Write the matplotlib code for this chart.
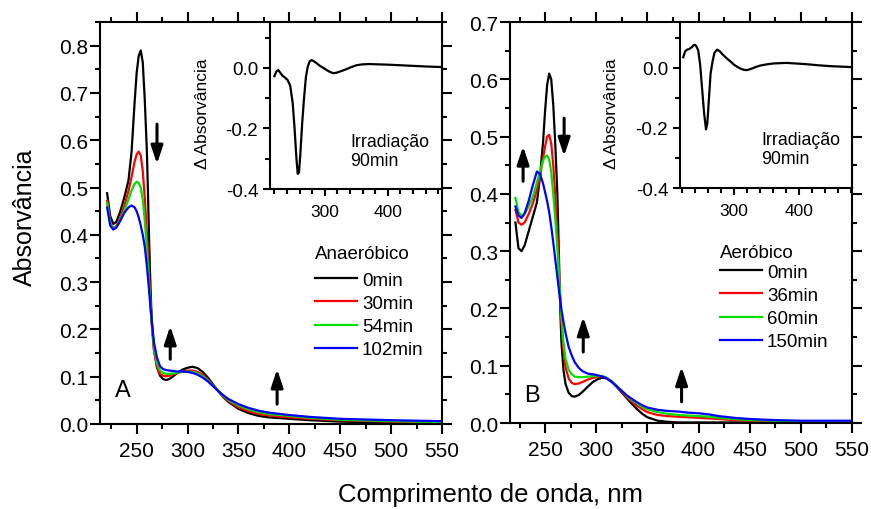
import matplotlib
matplotlib.use("Agg")
import matplotlib.pyplot as plt
from matplotlib.ticker import MultipleLocator

plt.rcParams['font.family'] = ['Liberation Sans', 'DejaVu Sans']

# ---------------- Panel A: anaerobic irradiation ----------------
wl_a = [221, 224, 227, 230, 234, 238, 242, 245, 248, 250, 252, 254, 256, 258, 260,
        261, 262, 263, 264, 265, 267, 270, 273, 276, 279, 282, 286, 290, 295, 300,
        305, 310, 315, 320, 325, 330, 335, 340, 350, 360, 370, 380, 400, 420, 450,
        500, 550]
abs_a_0 = [0.488, 0.440, 0.423, 0.427, 0.450, 0.480, 0.515, 0.575, 0.680, 0.742, 0.778,
           0.790, 0.765, 0.685, 0.580, 0.500, 0.410, 0.330, 0.265, 0.215, 0.160, 0.120,
           0.102, 0.095, 0.093, 0.095, 0.101, 0.108, 0.115, 0.119, 0.121, 0.118, 0.110,
           0.098, 0.084, 0.070, 0.057, 0.047, 0.032, 0.023, 0.017, 0.014, 0.011, 0.008,
           0.005, 0.003, 0.002]
abs_a_30 = [0.472, 0.428, 0.414, 0.418, 0.437, 0.462, 0.493, 0.522, 0.555, 0.570, 0.576,
            0.568, 0.535, 0.478, 0.405, 0.365, 0.322, 0.280, 0.240, 0.205, 0.155, 0.120,
            0.106, 0.102, 0.101, 0.102, 0.105, 0.108, 0.111, 0.113, 0.113, 0.110, 0.104,
            0.094, 0.082, 0.070, 0.058, 0.049, 0.035, 0.027, 0.021, 0.018, 0.014, 0.011,
            0.008, 0.005, 0.003]
abs_a_54 = [0.468, 0.425, 0.413, 0.416, 0.432, 0.452, 0.475, 0.494, 0.508, 0.512, 0.510,
            0.500, 0.475, 0.430, 0.370, 0.338, 0.305, 0.272, 0.240, 0.210, 0.162, 0.128,
            0.113, 0.108, 0.106, 0.106, 0.107, 0.109, 0.110, 0.111, 0.110, 0.107, 0.101,
            0.092, 0.081, 0.070, 0.060, 0.051, 0.039, 0.031, 0.025, 0.021, 0.017, 0.013,
            0.009, 0.006, 0.004]
abs_a_102 = [0.458, 0.420, 0.411, 0.415, 0.430, 0.447, 0.458, 0.462, 0.458, 0.450, 0.437,
             0.420, 0.400, 0.375, 0.335, 0.312, 0.288, 0.262, 0.238, 0.215, 0.172, 0.140,
             0.122, 0.116, 0.114, 0.113, 0.112, 0.111, 0.111, 0.110, 0.108, 0.104, 0.098,
             0.090, 0.080, 0.070, 0.061, 0.053, 0.042, 0.034, 0.028, 0.024, 0.019, 0.015,
             0.011, 0.008, 0.006]
labels_a = ['0min', '30min', '54min', '102min']

# difference spectrum (90 min irradiation), anaerobic
wl_da = [220, 223, 226, 229, 233, 237, 241, 245, 249, 252, 255, 257, 259, 261, 264, 267,
         270, 273, 276, 279, 283, 288, 293, 298, 303, 308, 313, 318, 325, 333, 342, 350,
         360, 370, 385, 400, 420, 440, 460, 486]
dabs_a = [-0.027, -0.012, -0.006, -0.015, -0.026, -0.032, -0.040, -0.058, -0.115, -0.200,
          -0.300, -0.350, -0.345, -0.290, -0.185, -0.100, -0.030, 0.005, 0.022, 0.026,
          0.022, 0.014, 0.006, 0.000, -0.007, -0.013, -0.017, -0.016, -0.011, -0.005,
          0.003, 0.009, 0.012, 0.013, 0.012, 0.011, 0.009, 0.007, 0.005, 0.003]

# ---------------- Panel B: aerobic irradiation ----------------
wl_b = [221, 224, 227, 230, 234, 238, 242, 245, 248, 250, 252, 254, 256, 258, 260, 262,
        263, 264, 265, 266, 268, 270, 273, 276, 279, 283, 287, 292, 297, 302, 306, 310,
        315, 320, 325, 330, 335, 340, 345, 350, 360, 370, 380, 390, 400, 410, 420, 435,
        450, 475, 500, 550]
abs_b_0 = [0.350, 0.305, 0.300, 0.310, 0.335, 0.360, 0.385, 0.430, 0.490, 0.545, 0.590,
           0.610, 0.600, 0.555, 0.485, 0.400, 0.330, 0.255, 0.190, 0.140, 0.092, 0.068,
           0.053, 0.047, 0.046, 0.049, 0.055, 0.064, 0.072, 0.077, 0.079, 0.078, 0.072,
           0.063, 0.053, 0.043, 0.033, 0.024, 0.016, 0.010, 0.004, 0.002, 0.001, 0.001,
           0.001, 0.001, 0.001, 0.001, 0.001, 0.001, 0.001, 0.001]
abs_b_36 = [0.372, 0.350, 0.346, 0.350, 0.365, 0.383, 0.407, 0.430, 0.462, 0.483, 0.500,
            0.503, 0.488, 0.450, 0.395, 0.330, 0.290, 0.250, 0.210, 0.175, 0.125, 0.097,
            0.078, 0.070, 0.068, 0.069, 0.072, 0.076, 0.079, 0.081, 0.081, 0.079, 0.073,
            0.064, 0.054, 0.045, 0.037, 0.030, 0.024, 0.019, 0.014, 0.012, 0.011, 0.010,
            0.009, 0.008, 0.007, 0.005, 0.004, 0.003, 0.003, 0.003]
abs_b_60 = [0.393, 0.368, 0.362, 0.365, 0.378, 0.395, 0.420, 0.440, 0.458, 0.465, 0.467,
            0.460, 0.438, 0.400, 0.355, 0.305, 0.275, 0.245, 0.215, 0.185, 0.140, 0.112,
            0.093, 0.085, 0.081, 0.080, 0.080, 0.081, 0.082, 0.082, 0.082, 0.079, 0.073,
            0.065, 0.056, 0.047, 0.040, 0.034, 0.028, 0.024, 0.019, 0.016, 0.014, 0.013,
            0.012, 0.011, 0.009, 0.007, 0.005, 0.004, 0.003, 0.003]
abs_b_150 = [0.378, 0.362, 0.358, 0.366, 0.388, 0.415, 0.439, 0.435, 0.418, 0.403, 0.387,
             0.368, 0.343, 0.315, 0.285, 0.255, 0.240, 0.225, 0.211, 0.198, 0.176, 0.157,
             0.133, 0.118, 0.106, 0.096, 0.090, 0.086, 0.085, 0.083, 0.081, 0.078, 0.072,
             0.064, 0.056, 0.048, 0.042, 0.036, 0.031, 0.027, 0.023, 0.021, 0.020, 0.018,
             0.017, 0.015, 0.012, 0.009, 0.007, 0.005, 0.004, 0.004]
labels_b = ['0min', '36min', '60min', '150min']

# difference spectrum (90 min irradiation), aerobic
wl_db = [222, 225, 228, 231, 235, 238, 240, 242, 245, 248, 251, 254, 257, 259, 261, 264,
         267, 270, 274, 278, 283, 289, 295, 300, 305, 310, 315, 320, 326, 333, 340, 350,
         360, 370, 381, 395, 410, 430, 450, 482]
dabs_b = [0.035, 0.055, 0.060, 0.062, 0.068, 0.075, 0.076, 0.072, 0.058, 0.010, -0.070,
          -0.150, -0.205, -0.185, -0.120, -0.020, 0.020, 0.050, 0.060, 0.055, 0.043, 0.031,
          0.020, 0.010, 0.003, -0.003, -0.007, -0.008, -0.004, 0.002, 0.007, 0.011, 0.014,
          0.015, 0.016, 0.014, 0.012, 0.008, 0.005, 0.002]

colors = ['#000000', '#ff0000', '#00e000', '#0000ff']

# arrows: (x, y_start, y_end) in data units
arrows_a = [(270, 0.634, 0.550), (283, 0.137, 0.207), (388, 0.042, 0.116)]
arrows_b = [(228.5, 0.422, 0.483), (268.6, 0.532, 0.466), (287.3, 0.124, 0.185),
            (383.4, 0.037, 0.098)]

W, H = 871, 510
fig = plt.figure(figsize=(W / 100, H / 100), dpi=100)


def frame(x0, y0, x1, y1):
    return [x0 / W, 1 - y1 / H, (x1 - x0) / W, (y1 - y0) / H]


def style(ax, major=7, minor=3.5, size=15, pad_x=5, pad_y=1.5, lw=1.5):
    for s in ax.spines.values():
        s.set_linewidth(lw)
    ax.tick_params(which='both', direction='out', top=True, right=True, width=lw)
    ax.tick_params(which='major', length=major)
    ax.tick_params(which='minor', length=minor)
    ax.tick_params(axis='x', labelsize=size, pad=pad_x)
    ax.tick_params(axis='y', labelsize=size, pad=pad_y)


def main_panel(ax, wl, series, labels, ylim, ytick, arrows, title, leg_xy, leg_sep,
               letter, letter_xy):
    for ys, lab, c in zip(series, labels, colors):
        ax.plot(wl, ys, color=c, lw=1.6, label=lab)
    ax.set_ylim(*ylim)
    ax.xaxis.set_major_locator(MultipleLocator(50))
    ax.xaxis.set_minor_locator(MultipleLocator(25))
    ax.yaxis.set_major_locator(MultipleLocator(ytick))
    ax.yaxis.set_minor_locator(MultipleLocator(ytick / 2))
    ax.yaxis.set_major_formatter(matplotlib.ticker.FormatStrFormatter('%.1f'))
    style(ax)
    for x, y0, y1 in arrows:
        ax.annotate('', xy=(x, y1), xytext=(x, y0),
                    arrowprops=dict(arrowstyle='-|>,head_length=0.6,head_width=0.2',
                                    lw=2.2, color='k', shrinkA=0, shrinkB=0,
                                    mutation_scale=18))
    leg = ax.legend(title=title, loc='upper left', frameon=False,
                    bbox_to_anchor=(leg_xy[0] / W, 1 - leg_xy[1] / H),
                    bbox_transform=fig.transFigure, fontsize=13.5, title_fontsize=13.5,
                    handlelength=2.25, handletextpad=0.25, labelspacing=0.32,
                    borderpad=0, borderaxespad=0, alignment='left')
    leg._legend_box.sep = leg_sep
    for line in leg.get_lines():
        line.set_linewidth(1.6)
    fig.text(letter_xy[0] / W, 1 - letter_xy[1] / H, letter, fontsize=17,
             ha='left', va='baseline')


def inset_panel(ax, wl, vals, xlim, txt_xy, lab_x):
    ax.plot(wl, vals, color='k', lw=1.6)
    ax.set_xlim(*xlim)
    ax.set_ylim(-0.4, 0.152)
    ax.xaxis.set_major_locator(MultipleLocator(100))
    ax.xaxis.set_minor_locator(MultipleLocator(20))
    ax.yaxis.set_major_locator(MultipleLocator(0.2))
    ax.yaxis.set_minor_locator(MultipleLocator(0.1))
    ax.yaxis.set_major_formatter(matplotlib.ticker.FormatStrFormatter('%.1f'))
    style(ax, major=5, minor=3.5, size=13.5, pad_x=6, pad_y=3.5)
    ax.tick_params(axis='x', labelsize=12.5)
    ax.tick_params(which='both', top=False, right=False)
    fig.text(txt_xy[0] / W, 1 - txt_xy[1] / H, 'Irradiação\n90min', fontsize=12.8,
             ha='left', va='top', linespacing=1.15)
    fig.text(lab_x / W, 1 - 114 / H, '\u0394 Absorvância', fontsize=12.5, rotation=90,
             ha='center', va='center')


axA = fig.add_axes(frame(100, 23, 442, 425))
axB = fig.add_axes(frame(510, 23, 852, 424))
insA = fig.add_axes(frame(270, 23, 442, 190))
insB = fig.add_axes(frame(680, 23, 852, 189))

main_panel(axA, wl_a, [abs_a_0, abs_a_30, abs_a_54, abs_a_102], labels_a, (0, 0.85), 0.1,
           arrows_a, 'Anaeróbico', (315, 246), 7, 'A', (115, 397))
main_panel(axB, wl_b, [abs_b_0, abs_b_36, abs_b_60, abs_b_150], labels_b, (0, 0.7), 0.1,
           arrows_b, 'Aeróbico', (720, 245), 2, 'B', (524, 402))
axA.set_xlim(214, 550)
axB.set_xlim(215.7, 550)

inset_panel(insA, wl_da, dabs_a, (213, 486), (350, 134), 202)
inset_panel(insB, wl_db, dabs_b, (217, 481.5), (761, 132), 611)

fig.text(490 / W, 1 - 495 / H, 'Comprimento de onda, nm', fontsize=18.5,
         ha='center', va='center')
fig.text(25 / W, 1 - 217 / H, 'Absorvância', fontsize=18, rotation=90,
         ha='center', va='center')

fig.savefig('out.png', dpi=100)
